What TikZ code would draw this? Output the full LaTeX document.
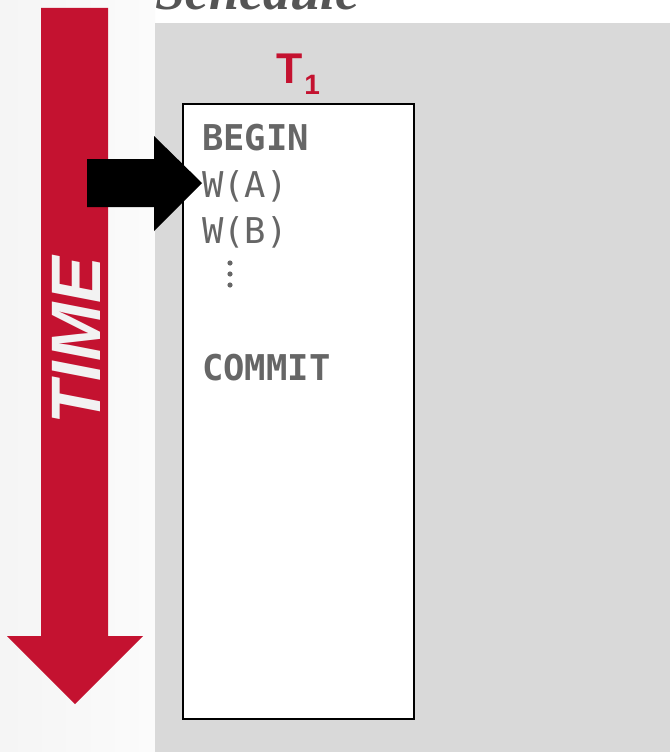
\documentclass[tikz,border=0pt]{standalone}
\usepackage{fontspec}
\setmainfont{Liberation Serif}
\newfontfamily\monofnt{DejaVu Sans Mono}
\newfontfamily\sansfnt{Liberation Sans}
\definecolor{cmured}{HTML}{C41230}
\definecolor{panelgray}{HTML}{D9D9D9}
\definecolor{txtgray}{HTML}{666666}
\definecolor{titlegray}{HTML}{555555}
\definecolor{timewhite}{HTML}{F2F2F2}
\begin{document}
\begin{tikzpicture}[x=1pt,y=-1pt,
  optext/.style={anchor=base west,inner sep=0pt,text=txtgray,font=\monofnt\fontsize{35.5}{35.5}\selectfont},
  opbold/.style={optext,font=\monofnt\bfseries\fontsize{35.5}{35.5}\selectfont}]
\useasboundingbox (0,0) rectangle (670,752);
\clip (0,0) rectangle (670,752);
% left strip
\shade[left color=black!4,right color=black!1.5] (0,0) rectangle (155,752);
% panel
\fill[panelgray] (155,23) rectangle (670,752);
% title
\node[anchor=base west,inner sep=0pt,text=titlegray,font=\bfseries\itshape\fontsize{54}{54}\selectfont] (title) at (155,10) {Schedule};
% time arrow
\fill[cmured] (41,8) -- (108,8) -- (108,636) -- (143,636) -- (75,704) -- (7,636) -- (41,636) -- cycle;
\node[rotate=90,text=timewhite,inner sep=0pt,font=\sansfnt\bfseries\itshape\fontsize{70}{70}\selectfont] (time) at (76,340.5) {TIME};
% transaction box
\node[draw=black,line width=1.5pt,fill=white,minimum width=231pt,minimum height=615pt,anchor=north west,inner sep=0pt] (t1box) at (182,103) {};
\node[anchor=base west,inner sep=0pt,text=cmured,font=\sansfnt\bfseries\fontsize{43}{43}\selectfont] (t1) at (276.5,83) {T\hspace{1.5pt}\raisebox{-11pt}{\fontsize{28}{28}\selectfont 1}};
% operations
\node[opbold] (begin) at (202,150) {BEGIN};
\node[optext] (wa) at (202,197) {W(A)};
\node[optext] (wb) at (202,243) {W(B)};
\foreach \yy in {263,274,285} \fill[txtgray] (230,\yy) circle (2.6);
\node[opbold] (commit) at (202,380) {COMMIT};
% pointer arrow
\fill[black] (87,159) -- (154,159) -- (154,136) -- (202,183) -- (154,231) -- (154,207) -- (87,207) -- cycle;
\end{tikzpicture}
\end{document}
